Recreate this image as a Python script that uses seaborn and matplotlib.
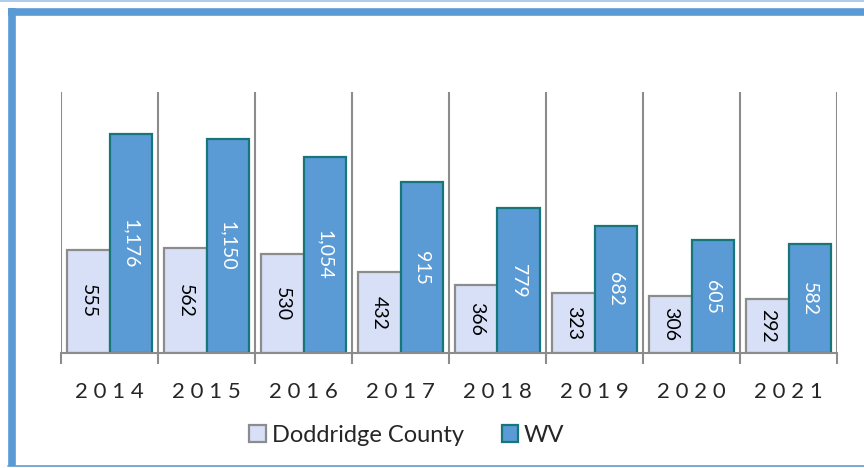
import matplotlib
matplotlib.use("Agg")
import matplotlib.pyplot as plt
import seaborn as sns
import pandas as pd
from matplotlib.lines import Line2D
from matplotlib.patches import Patch

years = ["2014", "2015", "2016", "2017", "2018", "2019", "2020", "2021"]
series_names = ["Doddridge County", "WV"]
doddridge = [555, 562, 530, 432, 366, 323, 306, 292]
wv = [1176, 1150, 1054, 915, 779, 682, 605, 582]

df = pd.DataFrame({
    "year": years * 2,
    "value": doddridge + wv,
    "series": [series_names[0]] * len(years) + [series_names[1]] * len(years),
})

sns.set_theme(style="white")
plt.rcParams['font.family'] = ['Lato', 'DejaVu Sans']

fill_colors = ["#D7E0F6", "#5B9BD5"]
edge_colors = ["#8C8C8C", "#17767A"]

fig = plt.figure(figsize=(8.64, 4.68), dpi=100)
ax = fig.add_axes([61/864, 115/468, 776/864, 261/468])

sns.barplot(data=df, x="year", y="value", hue="series", palette=fill_colors,
            saturation=1, width=0.88, gap=0, ax=ax, legend=False, order=years,
            hue_order=series_names)

for cont, ec, tc in zip(ax.containers, edge_colors, ["black", "white"]):
    for bar in cont:
        bar.set_edgecolor(ec)
        bar.set_linewidth(1.6)
    ax.bar_label(cont, labels=[f"{v:,.0f}" for v in cont.datavalues],
                 label_type="center", rotation=270, fontsize=14, color=tc)

ax.set_ylim(0, 1400)
ax.set_xlim(-0.5, len(years) - 0.5)
ax.set_yticks([])
ax.set_xlabel("")
ax.set_ylabel("")
ax.set_xticks(range(len(years)))
ax.set_xticklabels([" ".join(y) for y in years], fontsize=16)
ax.set_xticks([i - 0.5 for i in range(len(years) + 1)], minor=True)
ax.tick_params(axis="x", which="major", length=0, pad=21)
ax.tick_params(axis="x", which="minor", length=8, width=1.5, color="#8C8C8C", bottom=True)
ax.grid(False)
for x in [i - 0.5 for i in range(len(years) + 1)]:
    ax.axvline(x, color="#8C8C8C", lw=1.5, zorder=0)
for s in ["top", "right", "left"]:
    ax.spines[s].set_visible(False)
ax.spines["bottom"].set_color("#8C8C8C")
ax.spines["bottom"].set_linewidth(1.5)

handles = [Patch(facecolor=fill_colors[i], edgecolor=edge_colors[i], linewidth=1.6,
                 label=series_names[i]) for i in range(2)]
fig.legend(handles=handles, loc="center", bbox_to_anchor=(407/864, 1 - 435/468),
           ncol=2, frameon=False, fontsize=17, handlelength=0.7, handleheight=0.7,
           handletextpad=0.25, columnspacing=1.6)

# frame border
W, H = 864, 468
fig.add_artist(Line2D([11.5/W, 11.5/W], [1 - 8/H, 1 - 466/H], color="#5B9BD5", lw=5.5,
                      transform=fig.transFigure, solid_capstyle="butt"))
fig.add_artist(Line2D([8/W, 1.0], [1 - 11.5/H, 1 - 11.5/H], color="#5B9BD5", lw=5.5,
                      transform=fig.transFigure, solid_capstyle="butt"))
fig.add_artist(Line2D([8/W, 1.0], [1 - 466/H, 1 - 466/H], color="#5B9BD5", lw=1.2,
                      transform=fig.transFigure))
fig.add_artist(Line2D([0, 1.0], [1 - 0.5/H, 1 - 0.5/H], color="#9DC3E6", lw=1.2,
                      transform=fig.transFigure))

fig.savefig("out.png", dpi=100)
